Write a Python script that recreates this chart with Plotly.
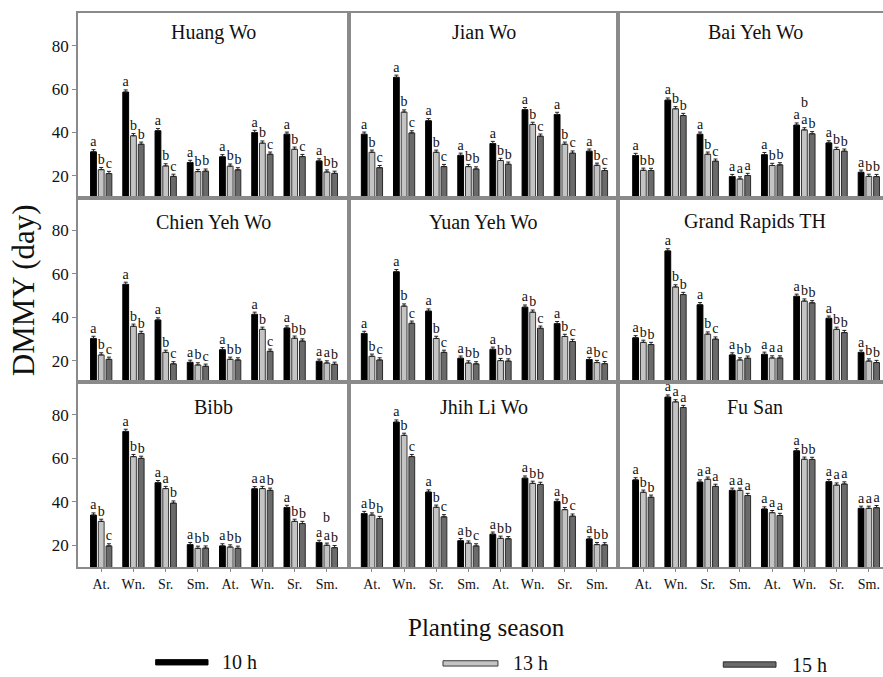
import plotly.graph_objects as go
from plotly.subplots import make_subplots

# ---------------- data ----------------
seasons = ["At.", "Wn.", "Sr.", "Sm.", "At.", "Wn.", "Sr.", "Sm."]
series_names = ["10 h", "13 h", "15 h"]
cultivars = ["Huang Wo", "Jian Wo", "Bai Yeh Wo",
             "Chien Yeh Wo", "Yuan Yeh Wo", "Grand Rapids TH",
             "Bibb", "Jhih Li Wo", "Fu San"]

huang_wo_10 = [31.1, 58.6, 40.8, 26.2, 28.8, 40.0, 39.2, 26.9]
huang_wo_13 = [22.9, 38.5, 24.6, 22.0, 24.5, 35.1, 32.3, 21.8]
huang_wo_15 = [21.1, 34.6, 19.8, 22.2, 22.8, 30.0, 28.9, 21.2]
huang_wo_let = ["a,b,c", "a,b,b", "a,b,c", "a,b,b", "a,b,b", "a,b,c", "a,b,c", "a,b,b"]

jian_wo_10 = [39.2, 65.4, 45.4, 29.5, 34.9, 50.5, 48.3, 31.4]
jian_wo_13 = [30.9, 49.4, 30.9, 24.3, 27.1, 43.7, 34.6, 24.9]
jian_wo_15 = [23.8, 39.8, 24.3, 23.2, 25.4, 38.3, 30.5, 22.5]
jian_wo_let = ["a,b,c", "a,b,c", "a,b,c", "a,b,b", "a,b,b", "a,b,c", "a,b,c", "a,b,c"]

bai_yeh_wo_10 = [29.4, 54.9, 39.2, 19.7, 29.8, 43.4, 35.2, 21.7]
bai_yeh_wo_13 = [22.6, 50.9, 30.0, 18.6, 24.8, 41.2, 32.2, 19.8]
bai_yeh_wo_15 = [22.5, 47.8, 26.8, 20.2, 25.1, 39.4, 31.4, 19.7]
bai_yeh_wo_let = ["a,b,b", "a,b,b", "a,b,c", "a,a,a", "a,b,b", "a,a/b,b", "a,b,b", "a,b,b"]

chien_yeh_wo_10 = [30.2, 55.1, 38.7, 19.2, 25.0, 41.3, 35.0, 19.7]
chien_yeh_wo_13 = [22.6, 35.8, 23.8, 18.0, 20.6, 34.4, 30.3, 18.9]
chien_yeh_wo_15 = [20.6, 32.5, 18.5, 17.4, 20.3, 24.3, 29.0, 18.3]
chien_yeh_wo_let = ["a,b,c", "a,b,b", "a,b,c", "a,b,c", "a,b,b", "a,b,c", "a,b,b", "a,a,b"]

yuan_yeh_wo_10 = [32.5, 60.9, 42.8, 21.1, 25.2, 44.6, 37.0, 20.5]
yuan_yeh_wo_13 = [22.0, 45.1, 30.2, 18.9, 20.0, 42.3, 31.1, 19.1]
yuan_yeh_wo_15 = [20.3, 37.2, 23.8, 18.5, 19.8, 34.9, 28.8, 18.6]
yuan_yeh_wo_let = ["a,b,c", "a,b,c", "a,b,c", "a,b,b", "a,b,b", "a,b,c", "a,b,c", "a,b,c"]

grand_rapids_10 = [30.5, 70.5, 45.7, 22.6, 22.9, 49.6, 39.5, 23.8]
grand_rapids_13 = [28.4, 53.9, 32.2, 20.3, 21.2, 47.4, 34.4, 19.8]
grand_rapids_15 = [27.4, 50.4, 29.9, 21.1, 21.2, 46.6, 32.9, 19.1]
grand_rapids_let = ["a,b,b", "a,b,b", "a,b,c", "a,b,b", "a,a,a", "a,b,b", "a,b,b", "a,b,b"]

bibb_10 = [33.9, 72.4, 48.8, 20.3, 19.7, 46.0, 37.4, 21.3]
bibb_13 = [31.0, 60.8, 46.1, 18.6, 19.2, 46.1, 31.0, 20.0]
bibb_15 = [19.7, 60.0, 39.4, 18.7, 18.6, 45.3, 30.0, 18.9]
bibb_let = ["a,b,c", "a,b,b", "a,a,b", "a,b,b", "a,b,b", "a,a,b", "a,b,b", "a,a/b,b"]

jhih_li_wo_10 = [34.6, 76.7, 44.5, 22.1, 25.1, 50.9, 40.2, 22.9]
jhih_li_wo_13 = [33.9, 70.6, 37.5, 21.0, 23.2, 48.5, 36.4, 20.3]
jhih_li_wo_15 = [32.3, 60.8, 33.1, 19.7, 23.0, 48.0, 33.4, 20.2]
jhih_li_wo_let = ["a,b,b", "a,b,c", "a,b,c", "a,b,c", "a,b,b", "a,b,b", "a,b,c", "a,b,b"]

fu_san_10 = [50.1, 88.2, 49.1, 45.3, 36.7, 63.5, 49.3, 37.0]
fu_san_13 = [44.4, 86.0, 50.4, 45.3, 35.0, 59.6, 47.7, 37.0]
fu_san_15 = [42.1, 83.4, 47.1, 42.9, 33.7, 59.5, 48.2, 37.3]
fu_san_let = ["a,b,b", "a,a,a", "a,a,a", "a,a,a", "a,a,a", "a,b,b", "a,a,a", "a,a,a"]

std_err = 1.0  # approximate error bar height (day)

panel_values = [
    (huang_wo_10, huang_wo_13, huang_wo_15, huang_wo_let),
    (jian_wo_10, jian_wo_13, jian_wo_15, jian_wo_let),
    (bai_yeh_wo_10, bai_yeh_wo_13, bai_yeh_wo_15, bai_yeh_wo_let),
    (chien_yeh_wo_10, chien_yeh_wo_13, chien_yeh_wo_15, chien_yeh_wo_let),
    (yuan_yeh_wo_10, yuan_yeh_wo_13, yuan_yeh_wo_15, yuan_yeh_wo_let),
    (grand_rapids_10, grand_rapids_13, grand_rapids_15, grand_rapids_let),
    (bibb_10, bibb_13, bibb_15, bibb_let),
    (jhih_li_wo_10, jhih_li_wo_13, jhih_li_wo_15, jhih_li_wo_let),
    (fu_san_10, fu_san_13, fu_san_15, fu_san_let),
]

# ---------------- style ----------------
SERIF = "Liberation Serif"
bar_colors = ["#000000", "#c4c4c4", "#6a6a6a"]
line_colors = ["#000000", "#3a3a3a", "#2a2a2a"]
frame_color = "#8a8a8a"
BARGAP = 0.28
BARGROUPGAP = 0.25
title_y = {1: 0.897, 2: 0.87, 3: 0.865}

fig = make_subplots(rows=3, cols=3, horizontal_spacing=0, vertical_spacing=0,
                    column_widths=[270.7, 269.3, 264.7])

xpos = list(range(len(seasons)))
slot = (1 - BARGAP) / 3

for idx, (v10, v13, v15, lets) in enumerate(panel_values):
    r, c = idx // 3 + 1, idx % 3 + 1
    xr = f"x{idx + 1 if idx else ''}"
    yr = f"y{idx + 1 if idx else ''}"
    for k, vals in enumerate([v10, v13, v15]):
        fig.add_trace(go.Bar(
            x=xpos, y=vals, name=series_names[k], showlegend=False,
            marker=dict(color=bar_colors[k], line=dict(color=line_colors[k], width=1)),
            error_y=dict(type="constant", value=std_err, valueminus=0, symmetric=False,
                         color="#222222", thickness=1, width=2),
        ), row=r, col=c)
        labels = [g.split(",")[k] for g in lets]
        xs = [i + (k - 1) * slot for i in xpos]
        ys = [v + std_err for v in vals]
        fig.add_trace(go.Scatter(
            x=xs, y=ys,
            text=[lab.split("/")[0] for lab in labels],
            mode="text", textposition="top center", showlegend=False,
            textfont=dict(family=SERIF, size=14, color="#111111"),
            cliponaxis=False, hoverinfo="skip",
        ), row=r, col=c)
        # stacked second letter (drawn just above the first one)
        for xx, yy, lab in zip(xs, ys, labels):
            if "/" in lab:
                fig.add_annotation(text=lab.split("/")[1], x=xx, y=yy, xref=xr, yref=yr,
                                   showarrow=False, xanchor="center", yanchor="bottom",
                                   yshift=16, font=dict(family=SERIF, size=14, color="#111111"))
    fig.add_annotation(text=cultivars[idx], x=3.48, y=title_y[r],
                       xref=xr, yref=f"{yr} domain", xanchor="center", yanchor="middle",
                       showarrow=False, font=dict(family=SERIF, size=20, color="#111111"))

x_ranges = {1: [-0.72, 7.68], 2: [-0.72, 7.66], 3: [-0.78, 7.44]}
for r in range(1, 4):
    for c in range(1, 4):
        fig.update_xaxes(row=r, col=c, range=x_ranges[c], showline=True, mirror=True,
                         linecolor=frame_color, linewidth=1.5, showgrid=False, zeroline=False,
                         tickvals=xpos, ticktext=seasons,
                         showticklabels=(r == 3), ticks=("outside" if r == 3 else ""),
                         ticklen=3, tickcolor=frame_color,
                         tickfont=dict(family=SERIF, size=14, color="#111111"))
        fig.update_yaxes(row=r, col=c, range=[10, 95], showline=True, mirror=(c != 3),
                         linecolor=frame_color, linewidth=1.5, showgrid=False, zeroline=False,
                         tickvals=[20, 40, 60, 80],
                         showticklabels=(c == 1), ticks=("outside" if c == 1 else ""),
                         ticklen=4, tickcolor=frame_color,
                         tickfont=dict(family=SERIF, size=17, color="#111111"))

# axis titles
fig.add_annotation(text="DMMY (day)", x=-0.068, y=0.5, xref="paper", yref="paper",
                   textangle=-90, showarrow=False, xanchor="center", yanchor="middle",
                   font=dict(family=SERIF, size=31, color="#111111"))
fig.add_annotation(text="Planting season", x=0.508, y=-0.11, xref="paper", yref="paper",
                   showarrow=False, xanchor="center", yanchor="middle",
                   font=dict(family=SERIF, size=25, color="#111111"))

# legend (swatches + labels)
legend_x = [(0.0965, 0.1615, 0.176), (0.4534, 0.5217, 0.538), (0.8016, 0.8671, 0.884)]
legend_y = [-0.172, -0.174, -0.176]
for k, name in enumerate(series_names):
    x0, x1, xt = legend_x[k]
    fig.add_shape(type="rect", xref="paper", yref="paper", x0=x0, x1=x1,
                  y0=legend_y[k] - 0.0048, y1=legend_y[k] + 0.0048,
                  fillcolor=bar_colors[k], line=dict(color=line_colors[k], width=1))
    fig.add_annotation(text=name, x=xt, y=legend_y[k], xref="paper", yref="paper",
                       showarrow=False, xanchor="left", yanchor="middle",
                       font=dict(family=SERIF, size=20, color="#111111"))

fig.update_layout(width=883, height=677, margin=dict(l=78, r=0, t=13, b=110),
                  barmode="group", bargap=BARGAP, bargroupgap=BARGROUPGAP,
                  plot_bgcolor="white", paper_bgcolor="white")

fig.write_html("out.html")
